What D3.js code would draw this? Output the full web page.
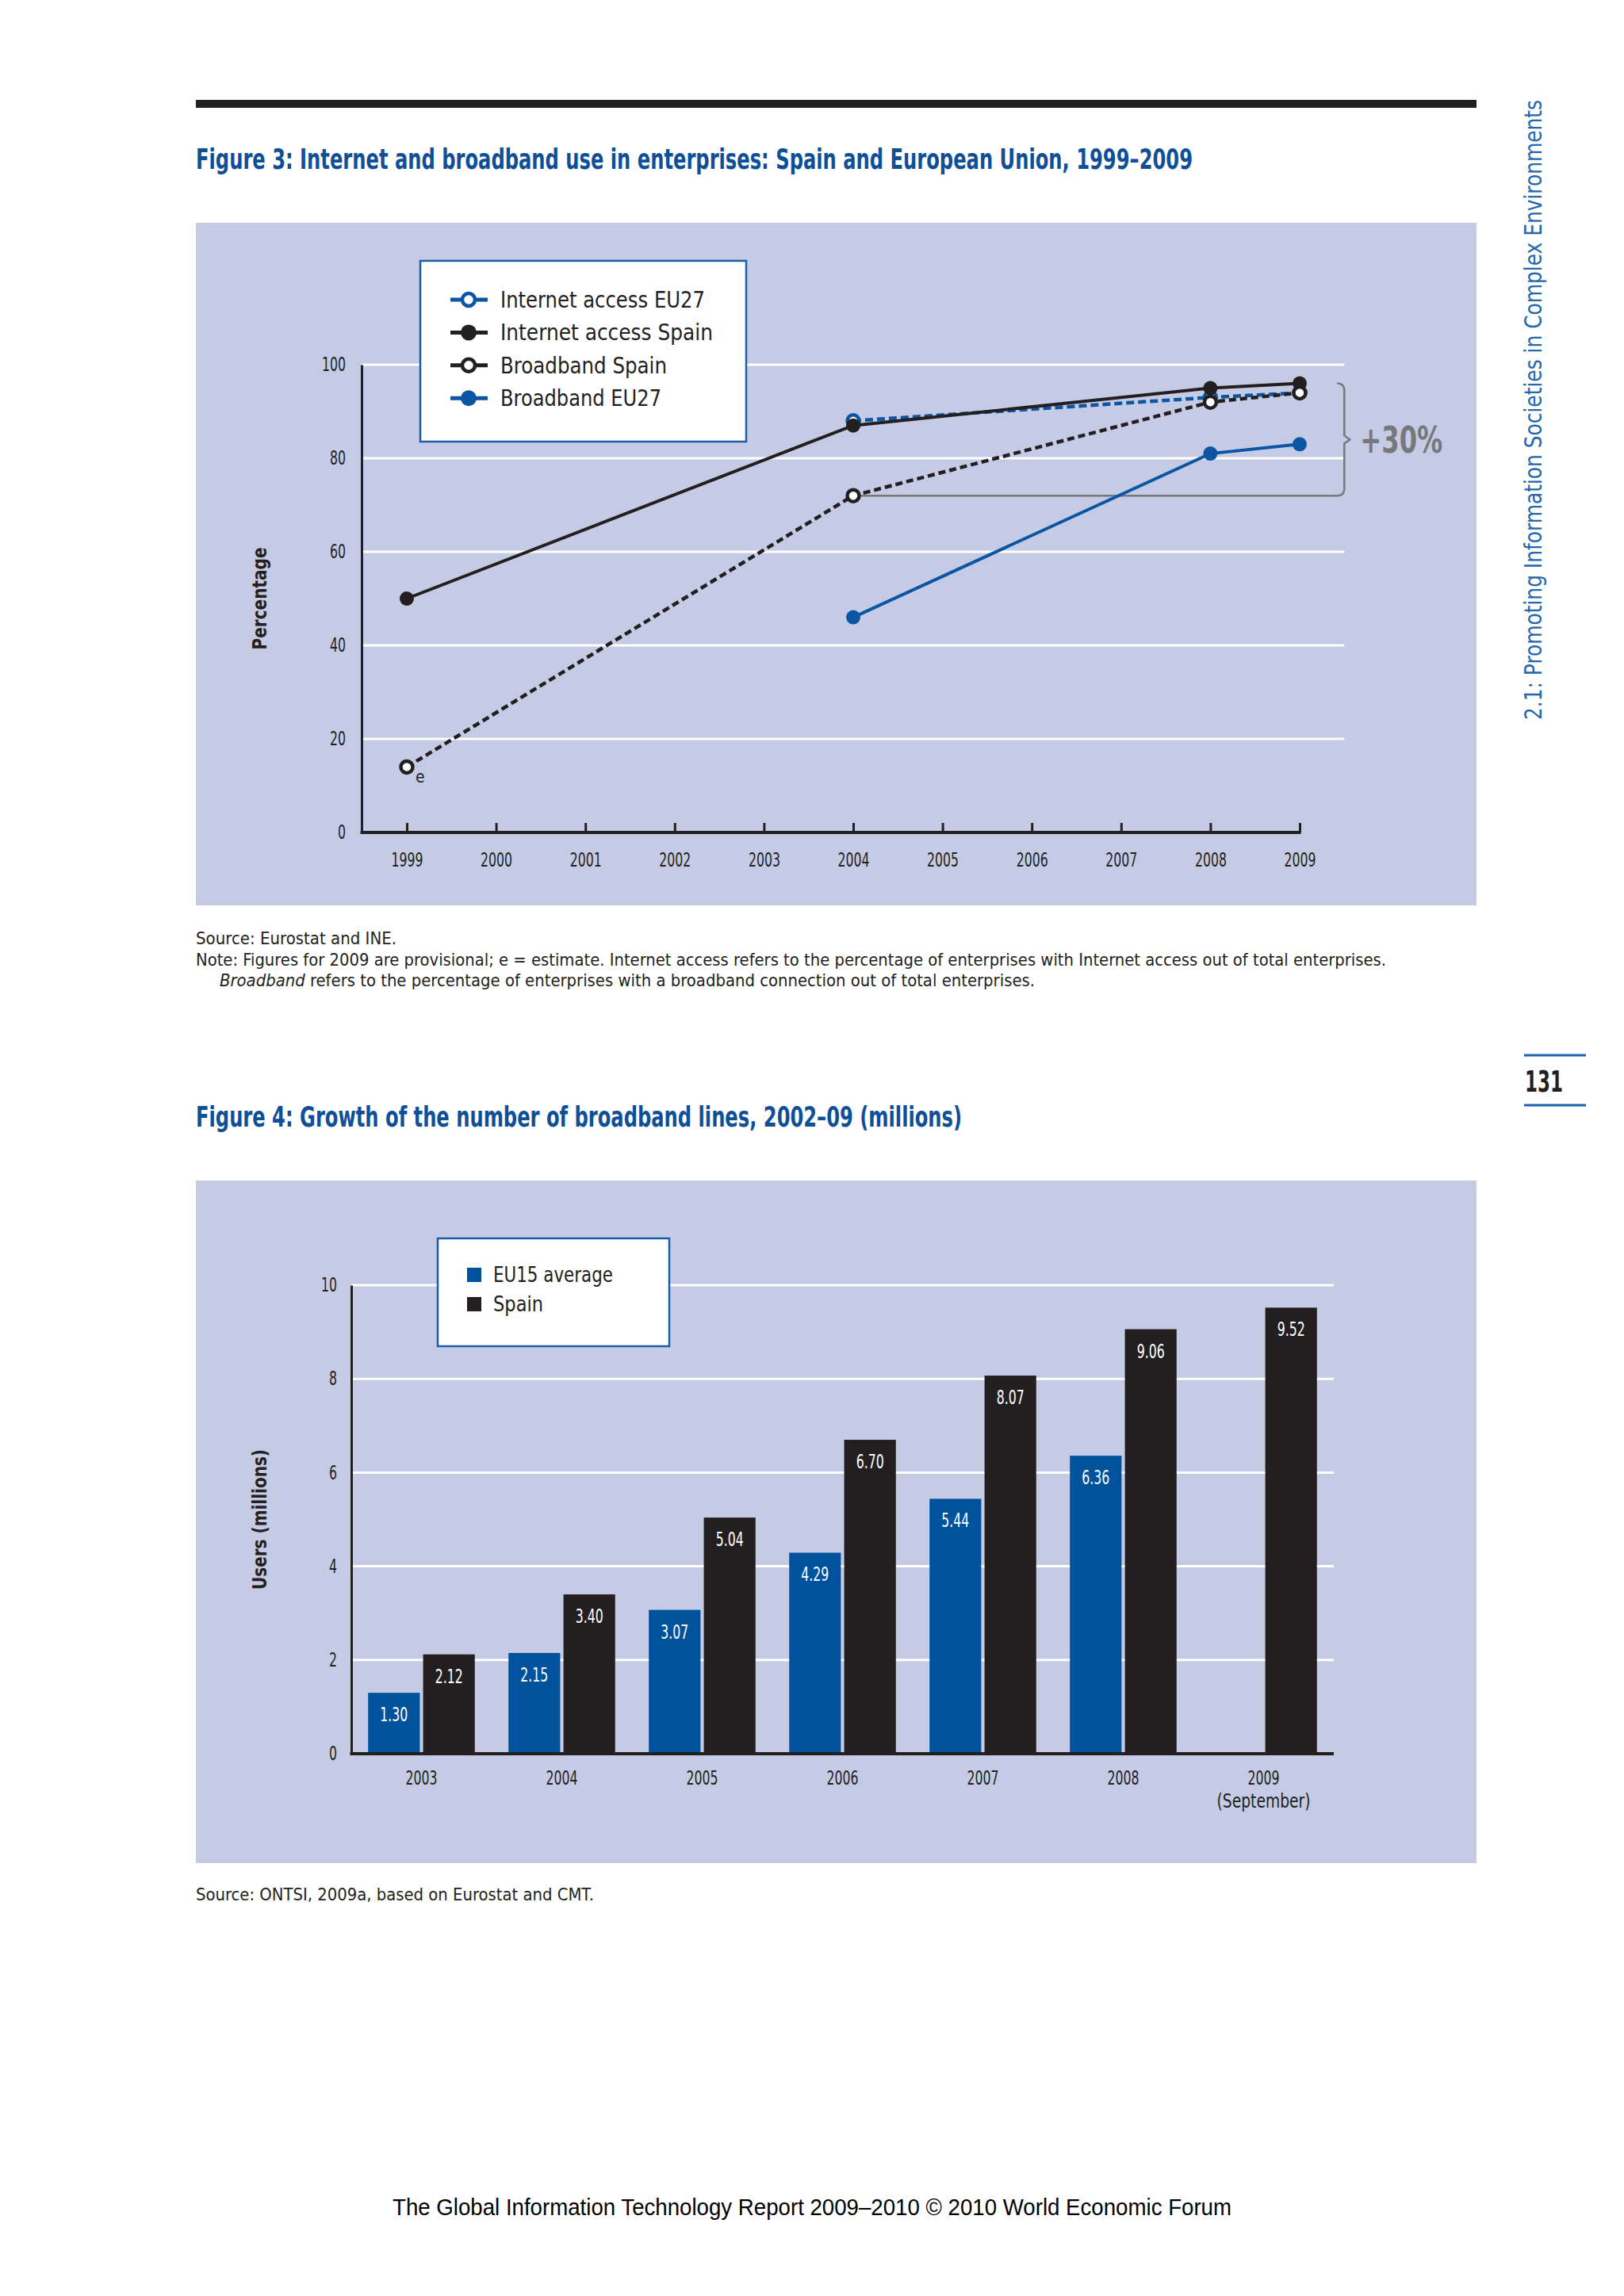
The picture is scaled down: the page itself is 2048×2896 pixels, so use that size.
<!DOCTYPE html>
<html>
<head>
<meta charset="utf-8">
<script src="https://cdn.jsdelivr.net/npm/d3@7"></script>
<style>
  body { margin: 0; background: #fff; }
  text { font-family: "Liberation Sans Narrow", "DejaVu Sans Condensed", "Roboto", sans-serif; }
</style>
</head>
<body>
<svg id="page"></svg>
<script>
// ---- Figure 3 data (percent of enterprises) ----
const years3 = [1999, 2000, 2001, 2002, 2003, 2004, 2005, 2006, 2007, 2008, 2009];
const internetEU27 = [null, null, null, null, null, 88, null, null, null, 93, 94];
const internetSpain = [50, null, null, null, null, 87, null, null, null, 95, 96];
const broadbandSpain = [14, null, null, null, null, 72, null, null, null, 92, 94];
const broadbandEU27 = [null, null, null, null, null, 46, null, null, null, 81, 83];
const yTicks3 = [0, 20, 40, 60, 80, 100];

// ---- Figure 4 data (millions of lines) ----
const years4 = ['2003', '2004', '2005', '2006', '2007', '2008', '2009'];
const eu15Lines = [1.30, 2.15, 3.07, 4.29, 5.44, 6.36, null];
const spainLines = [2.12, 3.40, 5.04, 6.70, 8.07, 9.06, 9.52];
const yTicks4 = [0, 2, 4, 6, 8, 10];

const W = 2048, H = 2896;
const BLUE = '#0b55a3', BLACK = '#231f20', PANEL = '#c5cbe5', GRAY = '#77787b';
const TITLE_BLUE = '#0f4f98';

const svg = d3.select('#page').attr('width', W).attr('height', H);
svg.append('rect').attr('width', W).attr('height', H).attr('fill', '#fff');

const fit = (sel, w) => sel.attr('textLength', w).attr('lengthAdjust', 'spacingAndGlyphs');
// squeeze short numeric labels to the narrow look of the original typeface
const narrow = sel => sel.each(function () {
  const t = d3.select(this).text();
  const w = [...t].reduce((s, c) => s + (c === '.' ? 5 : 10), 0);
  d3.select(this).attr('textLength', w).attr('lengthAdjust', 'spacingAndGlyphs');
});

// ---- page furniture ----
svg.append('rect').attr('x', 247).attr('y', 126).attr('width', 1615).attr('height', 10).attr('fill', BLACK);

svg.append('text').attr('x', 247).attr('y', 213)
  .attr('font-size', 36).attr('font-weight', 'bold').attr('fill', TITLE_BLUE)
  .text('Figure 3: Internet and broadband use in enterprises: Spain and European Union, 1999–2009')
  .call(fit, 1257);

svg.append('text').attr('transform', 'translate(1944,908) rotate(-90)')
  .attr('font-size', 31).attr('fill', '#2767ae')
  .text('2.1: Promoting Information Societies in Complex Environments')
  .call(fit, 782);

svg.append('line').attr('x1', 1922).attr('x2', 2000).attr('y1', 1331).attr('y2', 1331)
  .attr('stroke', '#1d62ad').attr('stroke-width', 3);
svg.append('line').attr('x1', 1922).attr('x2', 2000).attr('y1', 1394).attr('y2', 1394)
  .attr('stroke', '#1d62ad').attr('stroke-width', 3);
svg.append('text').attr('x', 1923).attr('y', 1377)
  .attr('font-size', 38).attr('font-weight', 'bold').attr('fill', BLACK).text('131').call(fit, 48);

// ================= Figure 3 =================
svg.append('rect').attr('x', 247).attr('y', 281).attr('width', 1615).attr('height', 861).attr('fill', PANEL);

const x3 = d3.scaleLinear().domain([1999, 2009]).range([513, 1639]);
const y3 = d3.scaleLinear().domain([0, 100]).range([1050, 460]);
const axisX0 = 456;

// gridlines
svg.append('g').selectAll('line').data(yTicks3.filter(d => d > 0)).join('line')
  .attr('x1', axisX0).attr('x2', x3(2009.5))
  .attr('y1', d => y3(d)).attr('y2', d => y3(d))
  .attr('stroke', '#fff').attr('stroke-width', 3);

// y axis
const gy3 = svg.append('g').attr('transform', `translate(${axisX0},0)`)
  .call(d3.axisLeft(y3).tickValues(yTicks3).tickSize(0).tickPadding(20));
gy3.select('.domain').attr('stroke', BLACK).attr('stroke-width', 3);
gy3.selectAll('text').attr('font-size', 24).attr('fill', BLACK).style('font-family', null).call(narrow);

// x axis
const gx3 = svg.append('g').attr('transform', `translate(0,${y3(0)})`)
  .call(d3.axisBottom(x3).tickValues(years3).tickFormat(d3.format('d'))
    .tickSizeInner(-12).tickSizeOuter(0).tickPadding(26));
gx3.select('.domain').remove();
gx3.selectAll('.tick line').attr('stroke', BLACK).attr('stroke-width', 3);
gx3.selectAll('text').attr('font-size', 24).attr('fill', BLACK).style('font-family', null).call(narrow);
svg.append('line').attr('x1', axisX0 - 1.5).attr('x2', x3(2009) + 1.5)
  .attr('y1', y3(0)).attr('y2', y3(0)).attr('stroke', BLACK).attr('stroke-width', 4);

// y axis title
svg.append('text').attr('transform', `translate(336,${y3(50)}) rotate(-90)`)
  .attr('text-anchor', 'middle').attr('font-size', 24).attr('font-weight', 'bold')
  .style('font-family', '"DejaVu Sans", Verdana, sans-serif').attr('fill', BLACK)
  .text('Percentage').call(fit, 129);

// bracket showing the +30% gap
const bx = x3(2009.5);
const bTop = y3(96), bBot = y3(72), bMid = y3(84);
svg.append('path')
  .attr('d', `M${bx - 9},${bTop} Q${bx},${bTop} ${bx},${bTop + 9} L${bx},${bMid - 5} L${bx + 7},${bMid} L${bx},${bMid + 5}
     L${bx},${bBot - 9} Q${bx},${bBot} ${bx - 9},${bBot} L${x3(2004)},${bBot}`)
  .attr('fill', 'none').attr('stroke', GRAY).attr('stroke-width', 2.5);
svg.append('text').attr('x', bx + 20).attr('y', bMid + 17)
  .attr('font-size', 46).attr('font-weight', 'bold').attr('fill', GRAY).text('+30%').call(fit, 104);

// series
const series3 = [
  { name: 'Internet access EU27', values: internetEU27, color: BLUE, dash: '10,5', open: true },
  { name: 'Internet access Spain', values: internetSpain, color: BLACK, dash: null, open: false },
  { name: 'Broadband Spain', values: broadbandSpain, color: BLACK, dash: '9,5', open: true },
  { name: 'Broadband EU27', values: broadbandEU27, color: BLUE, dash: null, open: false }
];
const line3 = d3.line().x(d => x3(d.year)).y(d => y3(d.value));

series3.forEach(s => {
  const pts = years3.map((yr, i) => ({ year: yr, value: s.values[i] })).filter(d => d.value != null);
  svg.append('path').datum(pts)
    .attr('fill', 'none').attr('stroke', s.color)
    .attr('stroke-width', s.dash ? 4.5 : 4)
    .attr('stroke-dasharray', s.dash)
    .attr('d', line3);
  svg.append('g').selectAll('circle').data(pts).join('circle')
    .attr('cx', d => x3(d.year)).attr('cy', d => y3(d.value))
    .attr('r', s.open ? 7.5 : 9)
    .attr('fill', s.open ? '#fff' : s.color)
    .attr('stroke', s.color).attr('stroke-width', s.open ? 4.5 : 0);
});

// "e" estimate marker
svg.append('text').attr('x', x3(1999) + 11).attr('y', y3(broadbandSpain[0]) + 20)
  .attr('font-size', 21).attr('fill', BLACK).text('e');

// legend
const lg3 = svg.append('g');
lg3.append('rect').attr('x', 530).attr('y', 329).attr('width', 411).attr('height', 228)
  .attr('fill', '#fff').attr('stroke', '#1c5ca8').attr('stroke-width', 2.5);
const legendW3 = [258, 268, 210, 203];
series3.forEach((s, i) => {
  const cy = 378 + i * 41.4;
  lg3.append('line').attr('x1', 568).attr('x2', 615).attr('y1', cy).attr('y2', cy)
    .attr('stroke', s.color).attr('stroke-width', 5);
  lg3.append('circle').attr('cx', 591).attr('cy', cy).attr('r', s.open ? 8 : 10)
    .attr('fill', s.open ? '#fff' : s.color).attr('stroke', s.color).attr('stroke-width', s.open ? 4.5 : 0);
  lg3.append('text').attr('x', 631).attr('y', cy + 10).attr('font-size', 29).attr('fill', BLACK)
    .text(s.name).call(fit, legendW3[i]);
});

// source & note
svg.append('text').attr('x', 247).attr('y', 1191).attr('font-size', 22).attr('fill', BLACK)
  .text('Source: Eurostat and INE.').call(fit, 253);
svg.append('text').attr('x', 247).attr('y', 1218).attr('font-size', 22).attr('fill', BLACK)
  .text('Note: Figures for 2009 are provisional; e = estimate. Internet access refers to the percentage of enterprises with Internet access out of total enterprises.')
  .call(fit, 1501);
const n3 = svg.append('text').attr('x', 277).attr('y', 1244).attr('font-size', 22).attr('fill', BLACK);
n3.append('tspan').attr('font-style', 'italic').text('Broadband');
n3.append('tspan').text(' refers to the percentage of enterprises with a broadband connection out of total enterprises.');
n3.call(fit, 1028);

// ================= Figure 4 =================
svg.append('text').attr('x', 247).attr('y', 1421)
  .attr('font-size', 36).attr('font-weight', 'bold').attr('fill', TITLE_BLUE)
  .text('Figure 4: Growth of the number of broadband lines, 2002–09 (millions)')
  .call(fit, 966);

svg.append('rect').attr('x', 247).attr('y', 1489).attr('width', 1615).attr('height', 861).attr('fill', PANEL);

const x4 = d3.scaleBand().domain(years4).range([443, 1682]).paddingInner(0.24).paddingOuter(0.12);
const xs4 = d3.scaleBand().domain(['EU15', 'Spain']).range([0, x4.bandwidth()]).paddingInner(0.06);
const y4 = d3.scaleLinear().domain([0, 10]).range([2212, 1621]);

svg.append('g').selectAll('line').data(yTicks4.filter(d => d > 0)).join('line')
  .attr('x1', 443).attr('x2', 1682)
  .attr('y1', d => y4(d)).attr('y2', d => y4(d))
  .attr('stroke', '#fff').attr('stroke-width', 3);

const gy4 = svg.append('g').attr('transform', 'translate(443,0)')
  .call(d3.axisLeft(y4).tickValues(yTicks4).tickSize(0).tickPadding(18));
gy4.select('.domain').attr('stroke', BLACK).attr('stroke-width', 3);
gy4.selectAll('text').attr('font-size', 24).attr('fill', BLACK).style('font-family', null).call(narrow);

const bars = [];
years4.forEach((yr, i) => {
  if (eu15Lines[i] != null) bars.push({ year: yr, key: 'EU15', value: eu15Lines[i] });
  if (spainLines[i] != null) bars.push({ year: yr, key: 'Spain', value: spainLines[i] });
});
const barColor = { EU15: '#00529c', Spain: BLACK };

svg.append('g').selectAll('rect').data(bars).join('rect')
  .attr('x', d => x4(d.year) + xs4(d.key))
  .attr('y', d => y4(d.value))
  .attr('width', xs4.bandwidth())
  .attr('height', d => y4(0) - y4(d.value))
  .attr('fill', d => barColor[d.key]);

svg.append('g').selectAll('text').data(bars).join('text')
  .attr('x', d => x4(d.year) + xs4(d.key) + xs4.bandwidth() / 2)
  .attr('y', d => y4(d.value) + 36)
  .attr('text-anchor', 'middle').attr('font-size', 25).attr('fill', '#fff')
  .text(d => d.value.toFixed(2)).call(narrow);

svg.append('line').attr('x1', 441.5).attr('x2', 1682).attr('y1', y4(0)).attr('y2', y4(0))
  .attr('stroke', BLACK).attr('stroke-width', 4);

// x labels
const xl = svg.append('g').selectAll('text').data(years4).join('text')
  .attr('x', d => x4(d) + x4.bandwidth() / 2).attr('y', 2251)
  .attr('text-anchor', 'middle').attr('font-size', 24).attr('fill', BLACK);
xl.append('tspan').text(d => d).attr('textLength', 40).attr('lengthAdjust', 'spacingAndGlyphs');
xl.filter(d => d === '2009').append('tspan')
  .attr('x', d => x4(d) + x4.bandwidth() / 2).attr('dy', 29).text('(September)')
  .attr('textLength', 118).attr('lengthAdjust', 'spacingAndGlyphs');

svg.append('text').attr('transform', `translate(336,${y4(5)}) rotate(-90)`)
  .attr('text-anchor', 'middle').attr('font-size', 24).attr('font-weight', 'bold')
  .style('font-family', '"DejaVu Sans", Verdana, sans-serif').attr('fill', BLACK)
  .text('Users (millions)').call(fit, 177);

// legend
const lg4 = svg.append('g');
lg4.append('rect').attr('x', 552).attr('y', 1562).attr('width', 292).attr('height', 136)
  .attr('fill', '#fff').attr('stroke', '#1c5ca8').attr('stroke-width', 2.5);
[['EU15', 'EU15 average', 151], ['Spain', 'Spain', 63]].forEach(([k, label, w], i) => {
  const cy = 1608 + i * 37;
  lg4.append('rect').attr('x', 589).attr('y', cy - 9).attr('width', 18).attr('height', 18).attr('fill', barColor[k]);
  lg4.append('text').attr('x', 622).attr('y', cy + 9).attr('font-size', 27).attr('fill', BLACK)
    .text(label).call(fit, w);
});

svg.append('text').attr('x', 247).attr('y', 2397).attr('font-size', 22).attr('fill', BLACK)
  .text('Source: ONTSI, 2009a, based on Eurostat and CMT.').call(fit, 502);

// footer
svg.append('text').attr('x', 495).attr('y', 2794).attr('font-size', 29)
  .style('font-family', '"Liberation Sans", Arial, sans-serif').attr('fill', '#000')
  .text('The Global Information Technology Report 2009–2010 © 2010 World Economic Forum')
  .call(fit, 1058);
</script>
</body>
</html>
